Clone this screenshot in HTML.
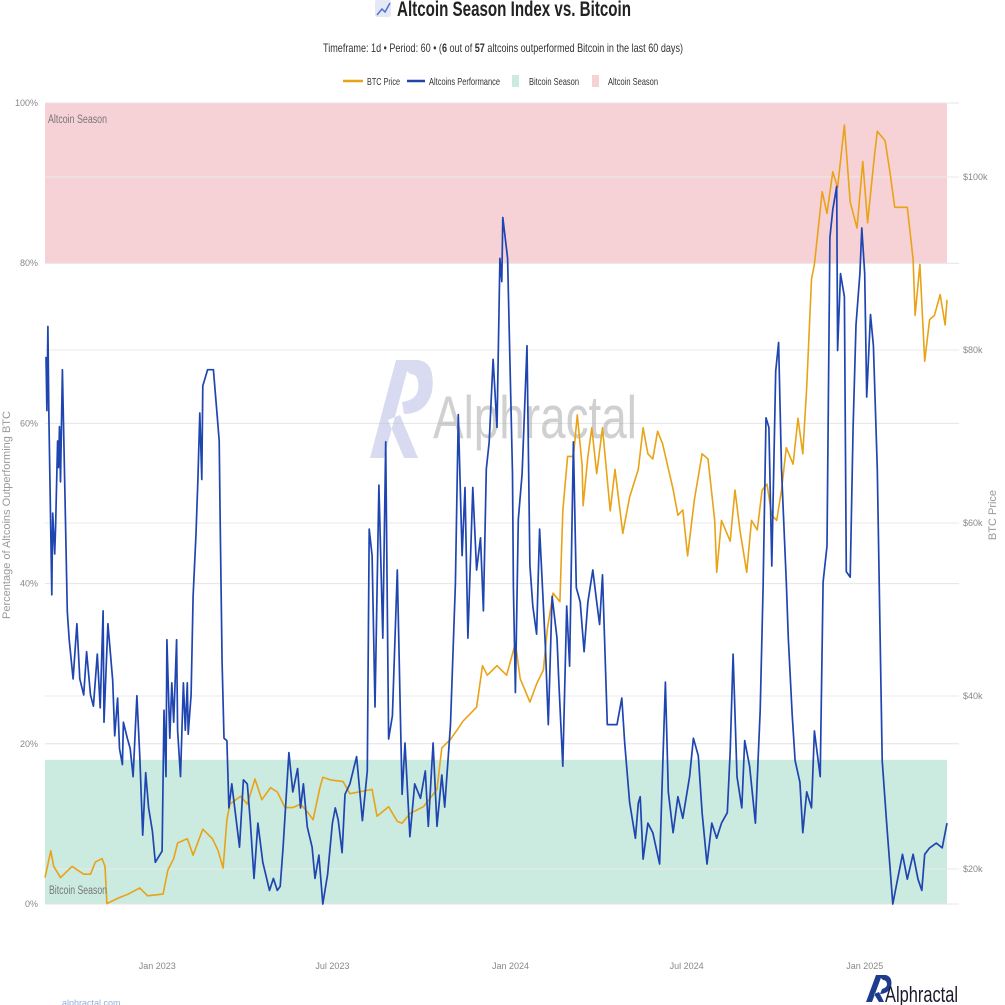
<!DOCTYPE html>
<html><head><meta charset="utf-8"><style>
html,body{margin:0;padding:0;background:#fff;}
svg{display:block;font-family:"Liberation Sans",sans-serif;}
</style></head><body>
<svg id="chart" width="1005" height="1005" viewBox="0 0 1005 1005" xmlns="http://www.w3.org/2000/svg">
<g>
  <rect x="375" y="0" width="16" height="17" fill="#e6e9f5" rx="2"/>
  <polyline points="377,15 382,9 385,12 390,3" fill="none" stroke="#4a74d0" stroke-width="1.5"/>
  <text x="397" y="16" font-size="21" font-weight="bold" fill="#222" textLength="234" lengthAdjust="spacingAndGlyphs">Altcoin Season Index vs. Bitcoin</text>
</g>
<text x="323" y="52" font-size="12" fill="#333" textLength="360" lengthAdjust="spacingAndGlyphs">Timeframe: 1d  •  Period: 60  •  (<tspan font-weight="bold">6</tspan> out of <tspan font-weight="bold">57</tspan> altcoins outperformed Bitcoin in the last 60 days)</text>
<g font-size="10.5" fill="#333">
  <g><line x1="343" y1="81" x2="363" y2="81" stroke="#e8a317" stroke-width="2.5"/><text x="367" y="85" textLength="33" lengthAdjust="spacingAndGlyphs">BTC Price</text></g>
  <g><line x1="407" y1="81" x2="425" y2="81" stroke="#1f45a8" stroke-width="2.5"/><text x="429" y="85" textLength="71" lengthAdjust="spacingAndGlyphs">Altcoins Performance</text></g>
  <g><rect x="512" y="75" width="7" height="12" fill="#cbeae0"/><text x="529" y="85" textLength="50" lengthAdjust="spacingAndGlyphs">Bitcoin Season</text></g>
  <g><rect x="592" y="75" width="7" height="12" fill="#f6d2d6"/><text x="608" y="85" textLength="50" lengthAdjust="spacingAndGlyphs">Altcoin Season</text></g>
</g>
<g id="bands"></g>
<g id="grid"></g>
<g id="watermark" opacity="0.55">
  <path d="M370,458 L396,360 L410,360 L384,458 Z M396,360 L418,360 Q436,362 432,392 Q426,414 404,414 L402,402 Q416,400 418,390 Q420,374 410,374 Z M388,420 L404,458 L418,458 L400,415 Z" fill="#b9bde6"/>
  <text x="433" y="438" font-size="60" fill="#aaa" textLength="204" lengthAdjust="spacingAndGlyphs">Alphractal</text>
</g>
<g id="axes"></g>
<g id="series"></g>
<text x="48" y="123" font-size="11.5" fill="#777" textLength="59" lengthAdjust="spacingAndGlyphs">Altcoin Season</text>
<text x="49" y="894" font-size="11.5" fill="#777" textLength="58" lengthAdjust="spacingAndGlyphs">Bitcoin Season</text>
<text transform="translate(10 515) rotate(-90)" font-size="11" fill="#999" text-anchor="middle">Percentage of Altcoins Outperforming BTC</text>
<text transform="translate(996 515) rotate(-90)" font-size="11" fill="#999" text-anchor="middle">BTC Price</text>
<g>
  <path d="M866,1002 L876,975 L882,975 L872,1002 Z M878,975 L886,975 Q893,977 891,987 Q888,994 880,994 L882,989 Q886,988 887,985 Q887,980 883,980 Z M874,994 L879,1002 L884,1002 L879,992 Z" fill="#1f3c8c"/>
  <text x="885" y="1002" font-size="22" fill="#1a1a2e" textLength="73" lengthAdjust="spacingAndGlyphs">Alphractal</text>
</g>
<text x="62" y="1006" font-size="9" fill="#8fb0d8">alphractal.com</text>
</svg>
<script>
// ---- data ----
const pctTicks = [0, 20, 40, 60, 80, 100];
const priceTicks = [20, 40, 60, 80, 100];
const dateTickLabels = ["Jan 2023", "Jul 2023", "Jan 2024", "Jul 2024", "Jan 2025"];
const dateTickDays = [0, 181, 365, 547, 731];
const bitcoinSeasonMax = 18;
const altcoinSeasonMin = 80;
// days since 2023-01-01
const altDays = [-115,-114,-113,-112,-109,-108,-106,-105,-103,-102,-101,-100,-98,-96,-93,-91,-87,-83,-80,-76,-73,-69,-66,-62,-59,-56,-55,-51,-46,-44,-41,-39,-36,-35,-31,-28,-25,-21,-18,-15,-12,-9,-5,-2,5,7,9,10,13,15,17,20,21,24,27,29,31,32,35,37,40,42,44,46,47,52,56,58,62,64,65,67,69,72,74,77,81,85,89,93,96,100,104,109,116,120,124,127,130,136,140,145,148,151,155,160,163,167,171,176,181,184,187,191,194,199,206,212,217,219,222,225,229,233,236,239,243,248,251,253,256,261,266,272,277,280,285,289,294,297,303,308,311,315,318,321,326,330,334,337,340,343,347,351,354,356,357,361,362,367,368,370,373,377,382,385,388,392,395,401,404,408,413,415,419,423,426,430,433,437,441,445,450,454,457,460,465,470,475,480,483,488,494,497,499,502,507,512,519,525,528,533,538,543,550,554,559,563,568,573,578,583,589,592,595,599,604,607,612,618,623,626,629,632,635,639,642,645,650,652,656,659,664,667,671,676,679,685,688,692,695,698,702,703,706,710,712,716,719,722,726,728,731,733,737,740,744,749,754,760,765,770,775,781,786,790,793,798,805,811,816];
const altValues = [68.3,61.6,72.1,60.8,38.6,48.8,43.7,47.1,57.8,54.5,59.6,52.7,66.7,54.5,36.5,33.0,28.1,35.0,28.1,26.1,31.5,26.1,24.7,31.2,24.5,36.6,22.7,35.0,27.9,21.0,25.7,19.4,17.4,22.7,20.7,19.4,15.9,26.0,18.4,8.6,16.4,12.0,9.1,5.2,6.6,24.2,15.9,33.0,20.7,27.6,22.7,33.0,21.7,15.9,27.6,21.7,27.6,21.2,26.1,38.4,46.2,53.0,61.3,53.0,64.7,66.7,66.7,66.7,60.8,57.8,47.6,30.1,20.7,20.4,12.0,15.0,11.0,7.1,15.5,15.0,10.5,3.2,10.1,5.2,1.7,3.2,1.7,2.2,7.1,18.9,14.0,16.9,12.0,15.0,9.6,7.1,3.2,6.1,0,3.7,10.1,12.0,10.5,6.4,13.7,15.0,18.4,10.4,16.6,46.8,43.5,24.6,52.3,33.2,57.7,20.6,23.5,41.7,24.6,13.7,20.1,8.4,15.0,13.2,16.6,9.7,20.1,9.7,16.1,12.1,22.4,40.0,61.1,43.5,52.0,33.2,52.0,41.7,45.7,36.6,54.3,57.7,68.0,59.5,80.6,77.7,85.7,81.7,80.6,53.7,39.5,26.4,48.0,53.7,69.7,42.3,37.2,33.7,46.8,32.1,22.4,38.4,33.2,27.5,17.2,37.2,29.7,57.7,39.5,37.7,31.5,37.7,41.7,37.7,34.9,41.1,22.4,22.4,22.4,25.7,20.1,12.7,8.2,12.6,13.4,5.6,10.1,8.9,5.0,27.7,14.0,8.9,13.4,10.7,15.9,20.7,18.5,11.4,5.0,10.1,8.2,10.1,11.4,19.1,31.2,15.9,12.0,20.4,17.2,10.1,24.2,39.6,60.7,59.5,42.2,66.5,70.1,54.3,40.2,33.2,23.6,17.9,15.2,8.9,14.0,12.0,21.6,15.9,40.2,44.7,83.2,86.7,89.6,69.1,78.7,75.8,41.5,40.8,59.5,72.3,78.7,84.4,78.7,63.3,73.6,69.7,54.3,17.9,9.5,0,3.1,6.2,3.1,6.2,3.1,1.7,6.2,7.0,7.6,7.0,10.1];
const btcDays = [-116,-110,-107,-100,-88,-76,-69,-64,-57,-54,-52,-41,-30,-18,-10,6,11,17,21,31,37,47,57,63,68,72,75,86,93,101,108,117,124,132,140,148,155,161,168,171,179,192,199,222,227,239,248,253,261,275,282,289,294,303,310,316,330,336,341,351,361,370,375,385,392,399,403,409,416,419,424,430,434,439,440,445,449,454,460,468,473,481,488,497,502,507,512,517,522,533,538,543,548,555,563,569,576,578,583,592,597,602,609,614,620,625,630,635,640,645,650,657,662,667,671,676,679,687,692,698,703,710,716,723,729,734,741,744,752,757,762,769,775,781,783,788,793,798,803,809,814,816];
const btcPrices = [19.0,22.1,20.3,19.0,20.3,19.4,19.4,20.8,21.2,20.3,16.0,16.6,17.1,17.8,16.9,17.1,19.9,21.2,23.0,23.5,21.6,24.6,23.5,22.1,20.1,25.7,27.5,28.4,27.5,30.4,28.0,29.4,28.9,27.1,27.1,27.5,26.6,25.7,29.4,30.6,30.3,30.1,28.7,29.2,26.1,27.2,25.5,25.3,26.4,27.2,28.2,29.2,34.0,35.0,36.1,37.1,38.7,43.5,42.4,43.5,42.4,46.1,42.0,39.3,41.4,43.0,47.7,51.9,50.9,61.4,67.7,67.7,72.5,66.7,62.0,67.7,71.0,65.7,71.0,61.4,66.2,58.8,63.0,66.2,71.0,68.0,67.4,70.6,69.2,63.9,60.9,61.5,56.2,62.7,68.0,67.4,60.3,54.3,60.3,57.9,63.8,59.2,54.3,60.3,59.2,63.8,64.5,60.9,60.3,63.8,68.7,66.8,72.1,68.0,75.7,88.2,89.9,98.3,95.8,100.6,98.8,106.0,97.1,94.1,101.8,94.7,102.4,105.3,104.2,100.6,96.5,96.5,96.5,90.5,84.0,89.9,78.7,83.5,84.0,86.4,82.9,85.8];

// ---- scales ----
const plotL = 45, plotR = 947, plotT = 103, plotB = 904;
const dayMin = -116, dayMax = 816;
function xScale(d){ return plotL + (d - dayMin) / (dayMax - dayMin) * (plotR - plotL); }
function yPct(v){ return plotB - v / 100 * (plotB - plotT); }
function yPrice(p){ return 869 - (p - 20) * 8.65; }

const NS = "http://www.w3.org/2000/svg";
function mk(tag, attrs, parent){ const e = document.createElementNS(NS, tag); for (const k in attrs) e.setAttribute(k, attrs[k]); parent.appendChild(e); return e; }

const bands = document.getElementById('bands');
const pink = mk('rect', {x: plotL, y: yPct(100), width: plotR - plotL, height: yPct(altcoinSeasonMin) - yPct(100), fill: '#f6d2d6'}, bands);


const green = mk('rect', {x: plotL, y: yPct(bitcoinSeasonMax), width: plotR - plotL, height: yPct(0) - yPct(bitcoinSeasonMax), fill: '#cbeae0'}, bands);



const grid = document.getElementById('grid');
const axes = document.getElementById('axes');
pctTicks.forEach(t => {
  const y = yPct(t);
  const gl = mk('line', {x1: plotL, x2: plotR + 12, y1: y, y2: y, stroke: '#e4e4e4', 'stroke-width': 1}, grid);
  
  
  const tx = mk('text', {x: 38, y: y + 3, 'font-size': 9, fill: '#888', 'text-anchor': 'end'}, axes);
  tx.textContent = t + '%';
  
  
});
priceTicks.forEach(t => {
  const y = yPrice(t);
  const gl = mk('line', {x1: plotL, x2: plotR + 12, y1: y, y2: y, stroke: '#e9e9e9', 'stroke-width': 1}, grid);
  
  
  const tx = mk('text', {x: 963, y: y + 3, 'font-size': 9, fill: '#888'}, axes);
  tx.textContent = '$' + t + 'k';
  
  
});
dateTickLabels.forEach((lab, i) => {
  const tx = mk('text', {x: xScale(dateTickDays[i]), y: 969, 'font-size': 9, fill: '#888', 'text-anchor': 'middle'}, axes);
  tx.textContent = lab;
  
  
});

const series = document.getElementById('series');
const btcPts = btcDays.map((d, i) => xScale(d).toFixed(1) + ',' + yPrice(btcPrices[i]).toFixed(1)).join(' ');
const btcLine = mk('polyline', {points: btcPts, fill: 'none', stroke: '#e8a317', 'stroke-width': 1.6, 'stroke-linejoin': 'round'}, series);


const altPts = altDays.map((d, i) => xScale(d).toFixed(1) + ',' + yPct(altValues[i]).toFixed(1)).join(' ');
const altLine = mk('polyline', {points: altPts, fill: 'none', stroke: '#1f45b0', 'stroke-width': 1.7, 'stroke-linejoin': 'round'}, series);


</script>
</body></html>
